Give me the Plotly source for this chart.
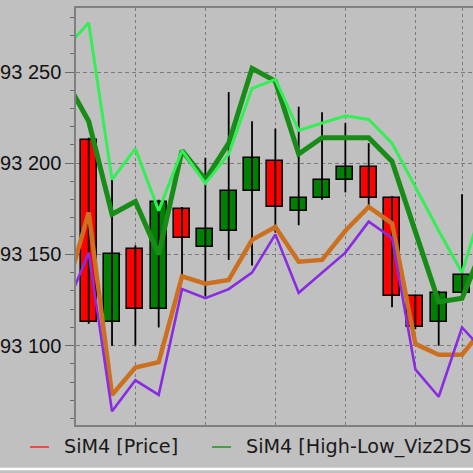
import plotly.graph_objects as go

# ---- data ----
candle_idx = list(range(17))
opens  = [93213, 93113, 93153, 93120, 93175, 93154, 93163, 93185, 93201, 93174, 93181, 93191, 93198, 93181, 93127, 93113, 93129]
highs  = [93214, 93191, 93155, 93180, 93176, 93203, 93239, 93223, 93219, 93231, 93228, 93222, 93211, 93182, 93128, 93130, 93183]
lows   = [93112, 93100, 93100, 93110, 93138, 93127, 93147, 93144, 93162, 93166, 93180, 93184, 93176, 93121, 93109, 93100, 93128]
closes = [93113, 93150, 93120, 93179, 93159, 93164, 93185, 93203, 93176, 93181, 93191, 93198, 93181, 93127, 93110, 93129, 93139]

line_idx = list(range(-1, 18))
bright_green = [93263, 93277, 93191, 93208, 93174, 93207, 93189, 93205, 93241, 93246, 93218, 93222, 93226, 93224, 93211, 93187, 93163, 93140, 93182]
dark_green   = [93246, 93223, 93172, 93179, 93150, 93207, 93191, 93211, 93252, 93245, 93205, 93214, 93214, 93214, 93201, 93162, 93124, 93126, 93157]
orange       = [93128, 93173, 93073, 93088, 93091, 93138, 93134, 93136, 93158, 93165, 93146, 93147, 93163, 93176, 93167, 93101, 93095, 93095, 93111]
purple       = [93120, 93151, 93064, 93081, 93073, 93131, 93126, 93131, 93140, 93161, 93129, 93140, 93151, 93168, 93159, 93087, 93072, 93110, 93096]

y_tickvals = [93100, 93150, 93200, 93250]
y_ticktext = ["93 100", "93 150", "93 200", "93 250"]
x_gridvals = [2, 5, 8, 11, 14, 16]
legend_names = ["SiM4 [Price]", "SiM4 [High-Low_Viz2DS]"]
legend_colors = ["#ff0000", "#008000"]

BG = "#c0c0c0"
GRID = "#7a7a7a"
UP = "#008000"
DOWN = "#ff0000"

fig = go.Figure()

# wicks (high-low) built from the OHLC arrays
wick_x, wick_y = [], []
for i, h, l in zip(candle_idx, highs, lows):
    wick_x += [i, i, None]
    wick_y += [h, l, None]
fig.add_trace(go.Scatter(x=wick_x, y=wick_y, mode="lines",
                         line=dict(color="#000000", width=1.8),
                         hoverinfo="skip", showlegend=False))

# bodies (open-close)
body_base = [min(o, c) for o, c in zip(opens, closes)]
body_len = [abs(c - o) for o, c in zip(opens, closes)]
body_col = [UP if c >= o else DOWN for o, c in zip(opens, closes)]
fig.add_trace(go.Bar(x=candle_idx, y=body_len, base=body_base, width=0.68,
                     marker=dict(color=body_col, line=dict(color="#000000", width=1.6)),
                     name=legend_names[0], showlegend=False))

fig.add_trace(go.Scatter(x=line_idx, y=orange, mode="lines",
                         line=dict(color="#cc7020", width=4.5), showlegend=False))
fig.add_trace(go.Scatter(x=line_idx, y=dark_green, mode="lines",
                         line=dict(color="#178c17", width=5), showlegend=False))
fig.add_trace(go.Scatter(x=line_idx, y=bright_green, mode="lines",
                         line=dict(color="#33ee55", width=3), showlegend=False))
fig.add_trace(go.Scatter(x=line_idx, y=purple, mode="lines",
                         line=dict(color="#8a2be2", width=2.6), showlegend=False))

# plot area: x 76..473 px, y 8..425 px
def px_x(px):
    return (px - 76) / 397.0

def px_y(py):
    return (425 - py) / 417.0

shapes = []
annotations = []
leg_y = px_y(447)
for name, col, x0, x1, xt in zip(legend_names, legend_colors, [30, 212], [49, 231], [62, 244]):
    shapes.append(dict(type="line", xref="paper", yref="paper",
                       x0=px_x(x0), x1=px_x(x1), y0=leg_y, y1=leg_y,
                       line=dict(color=col, width=1.2)))
    annotations.append(dict(text=name, xref="paper", yref="paper",
                            x=px_x(xt), y=leg_y, xanchor="left", yanchor="middle",
                            showarrow=False,
                            font=dict(family="DejaVu Sans", size=19.2, color="#1a1a1a")))
# white separator line near the bottom
shapes.append(dict(type="line", xref="paper", yref="paper",
                   x0=px_x(0), x1=px_x(473), y0=px_y(469), y1=px_y(469),
                   line=dict(color="#ffffff", width=2.5)))

fig.update_layout(
    width=473, height=473,
    margin=dict(l=76, r=0, t=8, b=48, autoexpand=False),
    paper_bgcolor=BG, plot_bgcolor=BG,
    showlegend=False, bargap=0,
    shapes=shapes, annotations=annotations,
    font=dict(family="Liberation Sans, Arial, sans-serif", color="#111111"),
    xaxis=dict(
        range=[-0.544, 16.47], automargin=False,
        showticklabels=False, ticks="",
        tickmode="array", tickvals=x_gridvals,
        showgrid=True, gridcolor=GRID, griddash="3px,3px", gridwidth=1,
        zeroline=False,
        showline=True, linecolor="#808080", linewidth=1.5, mirror=True,
    ),
    yaxis=dict(
        range=[93056.5, 93285.1], automargin=False,
        tickmode="array", tickvals=y_tickvals, ticktext=y_ticktext,
        tickfont=dict(family="Liberation Sans, Arial, sans-serif", size=20, color="#111111"),
        ticks="outside", ticklen=9, tickcolor="#6a6a6a", tickwidth=1,
        minor=dict(dtick=10, tick0=93100, ticks="outside", ticklen=4,
                   tickcolor="#6a6a6a", showgrid=False),
        showgrid=True, gridcolor=GRID, griddash="4px,3px", gridwidth=1,
        zeroline=False,
        showline=True, linecolor="#808080", linewidth=1.5,
    ),
)

fig.write_html("out.html", config={"displayModeBar": False},
               post_script="document.body.style.margin='0';document.body.style.overflow='hidden';")
